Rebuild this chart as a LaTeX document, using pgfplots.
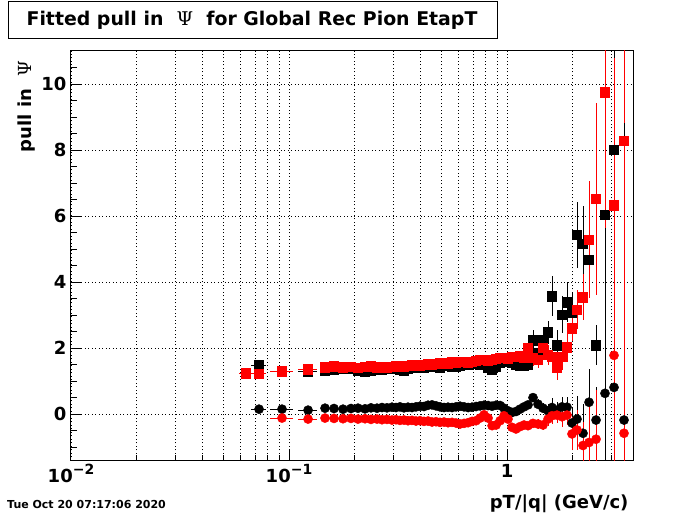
\documentclass[border=0pt]{standalone}
\usepackage{fontspec}
\setmainfont{DejaVu Sans}
\newfontfamily\symf{DejaVu Serif}
\usepackage{pgfplots}
\pgfplotsset{compat=1.18}
\usepackage{pgfplotstable}

% columns: x, y, relative x half-width, y error
\pgfplotstableread{
x y ex ey
0.07287 1.48 0.08 0.06
0.09288 1.28 0.12 0.05
0.1223 1.28 0.10 0.05
0.14630 1.33 0.045 0.04
0.16088 1.36 0.045 0.04
0.17691 1.38 0.045 0.04
0.19252 1.37 0.038 0.04
0.20727 1.33 0.038 0.04
0.22318 1.30 0.035 0.04
0.23774 1.33 0.03 0.04
0.25328 1.36 0.03 0.04
0.26701 1.35 0.027 0.04
0.28147 1.38 0.027 0.04
0.29673 1.40 0.024 0.04
0.30956 1.38 0.021 0.04
0.32292 1.36 0.021 0.04
0.33687 1.32 0.021 0.04
0.35142 1.38 0.021 0.04
0.36660 1.42 0.021 0.04
0.38244 1.40 0.021 0.04
0.39896 1.44 0.021 0.04
0.41619 1.40 0.021 0.04
0.43417 1.43 0.021 0.04
0.45292 1.47 0.021 0.04
0.47249 1.45 0.021 0.04
0.49290 1.42 0.021 0.04
0.51419 1.48 0.021 0.04
0.53640 1.50 0.021 0.04
0.55957 1.45 0.021 0.04
0.58374 1.43 0.021 0.04
0.60896 1.47 0.021 0.05
0.63526 1.52 0.021 0.05
0.66270 1.50 0.021 0.05
0.69133 1.55 0.021 0.05
0.72119 1.53 0.021 0.05
0.75234 1.50 0.021 0.05
0.78484 1.57 0.021 0.05
0.81874 1.40 0.021 0.05
0.85411 1.35 0.021 0.06
0.89100 1.45 0.021 0.06
0.92949 1.55 0.021 0.06
0.96881 1.60 0.021 0.07
1.0106 1.58 0.021 0.07
1.0543 1.55 0.021 0.08
1.0998 1.50 0.021 0.10
1.1471 1.47 0.021 0.12
1.1968 1.48 0.021 0.15
1.2483 1.50 0.021 0.20
1.3159 2.24 0.025 0.30
1.3874 1.85 0.025 0.30
1.4628 2.24 0.025 0.30
1.5421 2.48 0.025 0.35
1.6087 3.57 0.025 0.60
1.6956 2.09 0.025 0.45
1.7875 3.02 0.025 0.55
1.8846 3.39 0.025 0.60
1.9868 3.08 0.025 0.60
2.0947 5.44 0.025 1.00
2.2316 5.16 0.025 1.15
2.3775 4.68 0.025 0.40
2.5607 2.09 0.03 0.60
2.8150 6.04 0.03 9.0
3.0961 8.00 0.03 9.0
}\bsq

\pgfplotstableread{
x y ex ey
0.06350 1.24 0.07 0.08
0.07287 1.22 0.08 0.06
0.09288 1.30 0.12 0.05
0.1223 1.36 0.10 0.05
0.14630 1.42 0.045 0.04
0.16088 1.45 0.045 0.04
0.17691 1.42 0.045 0.04
0.19252 1.44 0.038 0.04
0.20727 1.40 0.038 0.04
0.22318 1.43 0.035 0.04
0.23774 1.45 0.03 0.04
0.25328 1.42 0.03 0.04
0.26701 1.44 0.027 0.04
0.28147 1.41 0.027 0.04
0.29673 1.43 0.024 0.04
0.30956 1.45 0.021 0.04
0.32292 1.47 0.021 0.04
0.33687 1.44 0.021 0.04
0.35142 1.46 0.021 0.04
0.36660 1.48 0.021 0.04
0.38244 1.50 0.021 0.04
0.39896 1.47 0.021 0.04
0.41619 1.49 0.021 0.04
0.43417 1.52 0.021 0.04
0.45292 1.50 0.021 0.04
0.47249 1.53 0.021 0.04
0.49290 1.55 0.021 0.04
0.51419 1.52 0.021 0.04
0.53640 1.54 0.021 0.04
0.55957 1.57 0.021 0.04
0.58374 1.55 0.021 0.04
0.60896 1.58 0.021 0.05
0.63526 1.60 0.021 0.05
0.66270 1.57 0.021 0.05
0.69133 1.60 0.021 0.05
0.72119 1.62 0.021 0.05
0.75234 1.64 0.021 0.05
0.78484 1.66 0.021 0.05
0.81874 1.63 0.021 0.05
0.85411 1.65 0.021 0.06
0.89100 1.68 0.021 0.06
0.92949 1.70 0.021 0.06
0.96881 1.72 0.021 0.07
1.0106 1.69 0.021 0.07
1.0543 1.73 0.021 0.08
1.0998 1.75 0.021 0.10
1.1471 1.78 0.021 0.12
1.1968 1.72 0.021 0.15
1.2483 2.02 0.021 0.20
1.3159 1.70 0.025 0.25
1.3874 1.65 0.025 0.25
1.4628 2.00 0.025 0.30
1.5421 1.80 0.025 0.30
1.6087 1.75 0.025 0.35
1.6956 1.42 0.025 0.40
1.7875 1.75 0.025 0.40
1.8846 2.03 0.025 0.45
1.9868 2.60 0.025 0.40
2.0947 3.17 0.025 0.60
2.2316 3.54 0.025 0.70
2.3775 5.28 0.025 1.77
2.5607 6.52 0.03 2.90
2.8150 9.75 0.03 12.0
3.0961 6.33 0.03 3.10
3.4412 8.29 0.03 12.0
}\rsq

\pgfplotstableread{
x y ex ey
0.07287 0.15 0.08 0.03
0.09288 0.15 0.12 0.03
0.1223 0.12 0.10 0.03
0.14630 0.18 0.045 0.03
0.16088 0.17 0.045 0.03
0.17691 0.15 0.045 0.03
0.19252 0.17 0.038 0.03
0.20727 0.18 0.038 0.03
0.22318 0.16 0.035 0.03
0.23774 0.19 0.03 0.03
0.25328 0.18 0.03 0.03
0.26701 0.20 0.027 0.03
0.28147 0.19 0.027 0.03
0.29673 0.21 0.024 0.03
0.30956 0.20 0.021 0.03
0.32292 0.22 0.021 0.03
0.33687 0.19 0.021 0.03
0.35142 0.21 0.021 0.03
0.36660 0.20 0.021 0.03
0.38244 0.22 0.021 0.03
0.39896 0.24 0.021 0.03
0.41619 0.23 0.021 0.03
0.43417 0.27 0.021 0.03
0.45292 0.28 0.021 0.03
0.47249 0.25 0.021 0.03
0.49290 0.22 0.021 0.03
0.51419 0.20 0.021 0.03
0.53640 0.21 0.021 0.03
0.55957 0.20 0.021 0.03
0.58374 0.22 0.021 0.03
0.60896 0.24 0.021 0.03
0.63526 0.22 0.021 0.03
0.66270 0.20 0.021 0.03
0.69133 0.21 0.021 0.03
0.72119 0.23 0.021 0.04
0.75234 0.25 0.021 0.04
0.78484 0.27 0.021 0.04
0.81874 0.26 0.021 0.04
0.85411 0.24 0.021 0.04
0.89100 0.27 0.021 0.05
0.92949 0.26 0.021 0.05
0.96881 0.18 0.021 0.05
1.0106 0.10 0.021 0.05
1.0543 0.05 0.021 0.06
1.0998 0.08 0.021 0.07
1.1471 0.15 0.021 0.08
1.1968 0.22 0.021 0.09
1.2483 0.28 0.021 0.10
1.3159 0.50 0.025 0.12
1.3874 0.30 0.025 0.15
1.4628 0.18 0.025 0.15
1.5421 0.10 0.025 0.20
1.6087 0.20 0.025 0.30
1.6956 0.12 0.025 0.25
1.7875 0.22 0.025 0.30
1.8846 0.21 0.025 0.30
1.9868 -0.27 0.025 0.50
2.0947 -0.15 0.025 0.70
2.2316 -0.58 0.025 0.90
2.3775 0.36 0.025 1.00
2.5607 -0.18 0.03 1.00
2.8150 0.63 0.03 5.0
3.0961 0.81 0.03 6.0
3.4412 -0.18 0.03 9.0
}\bci

\pgfplotstableread{
x y ex ey
0.09288 -0.12 0.12 0.03
0.1223 -0.15 0.10 0.03
0.14630 -0.12 0.045 0.03
0.16088 -0.13 0.045 0.03
0.17691 -0.14 0.045 0.03
0.19252 -0.13 0.038 0.03
0.20727 -0.15 0.038 0.03
0.22318 -0.14 0.035 0.03
0.23774 -0.16 0.03 0.03
0.25328 -0.15 0.03 0.03
0.26701 -0.17 0.027 0.03
0.28147 -0.16 0.027 0.03
0.29673 -0.18 0.024 0.03
0.30956 -0.17 0.021 0.03
0.32292 -0.19 0.021 0.03
0.33687 -0.18 0.021 0.03
0.35142 -0.20 0.021 0.03
0.36660 -0.19 0.021 0.03
0.38244 -0.21 0.021 0.03
0.39896 -0.20 0.021 0.03
0.41619 -0.22 0.021 0.03
0.43417 -0.21 0.021 0.03
0.45292 -0.24 0.021 0.03
0.47249 -0.23 0.021 0.03
0.49290 -0.25 0.021 0.03
0.51419 -0.24 0.021 0.03
0.53640 -0.26 0.021 0.03
0.55957 -0.25 0.021 0.03
0.58374 -0.27 0.021 0.03
0.60896 -0.30 0.021 0.03
0.63526 -0.28 0.021 0.03
0.66270 -0.26 0.021 0.03
0.69133 -0.22 0.021 0.03
0.72119 -0.20 0.021 0.04
0.75234 -0.12 0.021 0.04
0.78484 -0.02 0.021 0.04
0.81874 -0.12 0.021 0.04
0.85411 -0.35 0.021 0.04
0.89100 -0.33 0.021 0.05
0.92949 -0.20 0.021 0.05
0.96881 -0.05 0.021 0.05
1.0106 -0.15 0.021 0.05
1.0543 -0.40 0.021 0.06
1.0998 -0.45 0.021 0.07
1.1471 -0.38 0.021 0.08
1.1968 -0.33 0.021 0.09
1.2483 -0.35 0.021 0.10
1.3159 -0.28 0.025 0.12
1.3874 -0.30 0.025 0.15
1.4628 -0.33 0.025 0.15
1.5421 -0.15 0.025 0.20
1.6087 -0.05 0.025 0.25
1.6956 -0.03 0.025 0.25
1.7875 -0.08 0.025 0.30
1.8846 -0.03 0.025 0.30
1.9868 -0.60 0.025 0.50
2.0947 -0.48 0.025 0.60
2.2316 -0.95 0.025 0.70
2.3775 -0.86 0.025 1.20
2.5607 -0.76 0.03 1.50
3.0961 1.78 0.03 9.0
3.4412 -0.58 0.03 9.0
}\rci

\newcommand{\sups}[1]{\raisebox{0.75ex}{\fontsize{14bp}{14bp}\selectfont #1}}

\begin{document}
\begin{tikzpicture}
\useasboundingbox (0,0) rectangle (700bp,514bp);
\begin{axis}[
    at={(71bp,53bp)}, anchor=south west,
    width=562bp, height=410bp, scale only axis,
    xmode=log, xmin=0.01, xmax=3.784,
    ymin=-1.42, ymax=11,
    xtick={0.01,0.1,1},
    xticklabels={10\sups{−2},10\sups{−1},1},
    minor xtick={0.02,0.03,0.04,0.05,0.06,0.07,0.08,0.09,0.2,0.3,0.4,0.5,0.6,0.7,0.8,0.9,2,3},
    ytick={0,2,4,6,8,10},
    minor ytick={-1,-0.5,0.5,1,1.5,2.5,3,3.5,4.5,5,5.5,6.5,7,7.5,8.5,9,9.5,10.5},
    xmajorgrids, xminorgrids, ymajorgrids,
    grid style={black, line width=0.8bp, dash pattern=on 1bp off 2.5bp},
    tick align=inside, xtick pos=bottom, ytick pos=left,
    axis line style={line width=1bp},
    tick style={black, line width=1bp},
    major tick length=11bp, minor tick length=6bp,
    /pgf/number format/assume math mode=true,
    ticklabel style={font=\bfseries\fontsize{18bp}{18bp}\selectfont},
    yticklabel style={xshift=-1bp},
    error bars/error mark=none,
]
\addplot[black, only marks, mark=square*, mark size=4.6bp,
    error bars/.cd, x dir=both, x explicit relative, y dir=both, y explicit,
    error bar style={line width=1bp, black}]
    table[x=x, y=y, x error=ex, y error=ey] {\bsq};
\addplot[red, only marks, mark=square*, mark size=4.6bp,
    error bars/.cd, x dir=both, x explicit relative, y dir=both, y explicit,
    error bar style={line width=1bp, red}]
    table[x=x, y=y, x error=ex, y error=ey] {\rsq};
\addplot[black, only marks, mark=*, mark size=4.6bp,
    error bars/.cd, x dir=both, x explicit relative, y dir=both, y explicit,
    error bar style={line width=1bp, black}]
    table[x=x, y=y, x error=ex, y error=ey] {\bci};
\addplot[red, only marks, mark=*, mark size=4.6bp,
    error bars/.cd, x dir=both, x explicit relative, y dir=both, y explicit,
    error bar style={line width=1bp, red}]
    table[x=x, y=y, x error=ex, y error=ey] {\rci};
\end{axis}
% title box
\draw[line width=1bp] (8bp,475bp) rectangle (497bp,512bp);
\node[font=\bfseries\fontsize{18.9bp}{18.9bp}\selectfont] at (252bp,493.5bp)
    {Fitted pull in\ \ {\symf\mdseries Ψ}\ \ for Global Rec Pion EtapT};
% axis titles
\node[rotate=90, anchor=east, font=\bfseries\fontsize{18bp}{18bp}\selectfont]
    at (27bp,457bp) {pull in\ \ {\symf\mdseries Ψ}};
\node[anchor=base east, font=\bfseries\fontsize{18bp}{18bp}\selectfont]
    at (632bp,6bp) {pT/|q| (GeV/c)};
\node[anchor=base west, inner sep=0, font=\bfseries\fontsize{11bp}{11bp}\selectfont]
    at (7bp,6bp) {Tue Oct 20 07:17:06 2020};
\end{tikzpicture}
\end{document}
